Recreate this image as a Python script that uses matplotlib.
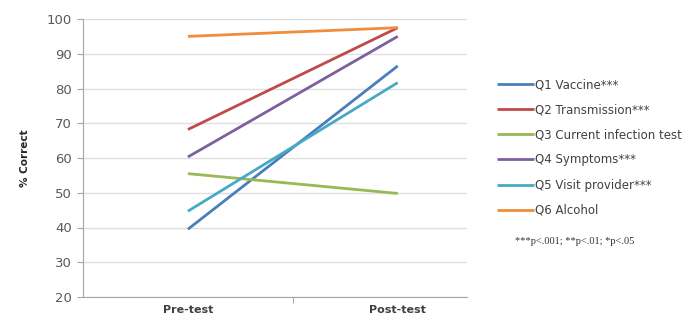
import matplotlib
matplotlib.use("Agg")
import matplotlib.pyplot as plt

categories = ["Pre-test", "Post-test"]
series_names = ["Q1 Vaccine***", "Q2 Transmission***", "Q3 Current infection test",
                "Q4 Symptoms***", "Q5 Visit provider***", "Q6 Alcohol"]
q1 = [39.5, 86.5]
q2 = [68.2, 97.5]
q3 = [55.5, 49.8]
q4 = [60.3, 95.0]
q5 = [44.7, 81.7]
q6 = [95.0, 97.5]
series_values = [q1, q2, q3, q4, q5, q6]
colors = ["#4A7EBB", "#BE4B48", "#98B954", "#7D60A0", "#46AAC5", "#F08C3A"]
yticks = [20, 30, 40, 50, 60, 70, 80, 90, 100]

plt.rcParams['font.family'] = ['DejaVu Sans']
fig = plt.figure(figsize=(6.96, 3.22), dpi=100)
ax = fig.add_axes([83/696, 1-297/322, (467-83)/696, (297-19)/322])

xs = list(range(len(categories)))
for name, vals, c in zip(series_names, series_values, colors):
    ax.plot(xs, vals, color=c, lw=2.0, label=name, solid_capstyle='butt')

ax.set_xlim(-0.5, 1.33)
ax.set_ylim(20, 100)
ax.set_yticks(yticks)
ax.set_yticklabels([str(t) for t in yticks], color="#595959", fontsize=9.5)
ax.yaxis.grid(True, color="#E0E0E0", lw=1)
ax.set_axisbelow(True)
ax.set_xticks([0.5])
ax.set_xticklabels([""])
for i, lab in enumerate(categories):
    ax.text(xs[i], -0.03, lab, transform=ax.get_xaxis_transform(), ha='center', va='top',
            fontsize=8, fontweight='bold', color="#404040")
ax.tick_params(axis='x', length=4, color="#A6A6A6", direction='out')
ax.tick_params(axis='y', length=4, color="#A6A6A6", direction='out', pad=4)
for s in ['top', 'right']:
    ax.spines[s].set_visible(False)
for s in ['left', 'bottom']:
    ax.spines[s].set_color("#A6A6A6")
ax.set_ylabel("% Correct", fontsize=7.5, fontweight='bold', color="#262626", labelpad=12)

leg = fig.legend(loc='upper left', bbox_to_anchor=(497/696, 1-78/322), frameon=False,
                 fontsize=8.5, handlelength=3.1, handletextpad=0.15, labelspacing=1.03,
                 borderpad=0, borderaxespad=0)
for t in leg.get_texts():
    t.set_color("#404040")

fig.text(515/696, 1-241/322, "***p<.001; **p<.01; *p<.05", fontsize=7.5,
         family='Liberation Serif', color="#333333", va='center')

fig.savefig("out.png", dpi=100)
